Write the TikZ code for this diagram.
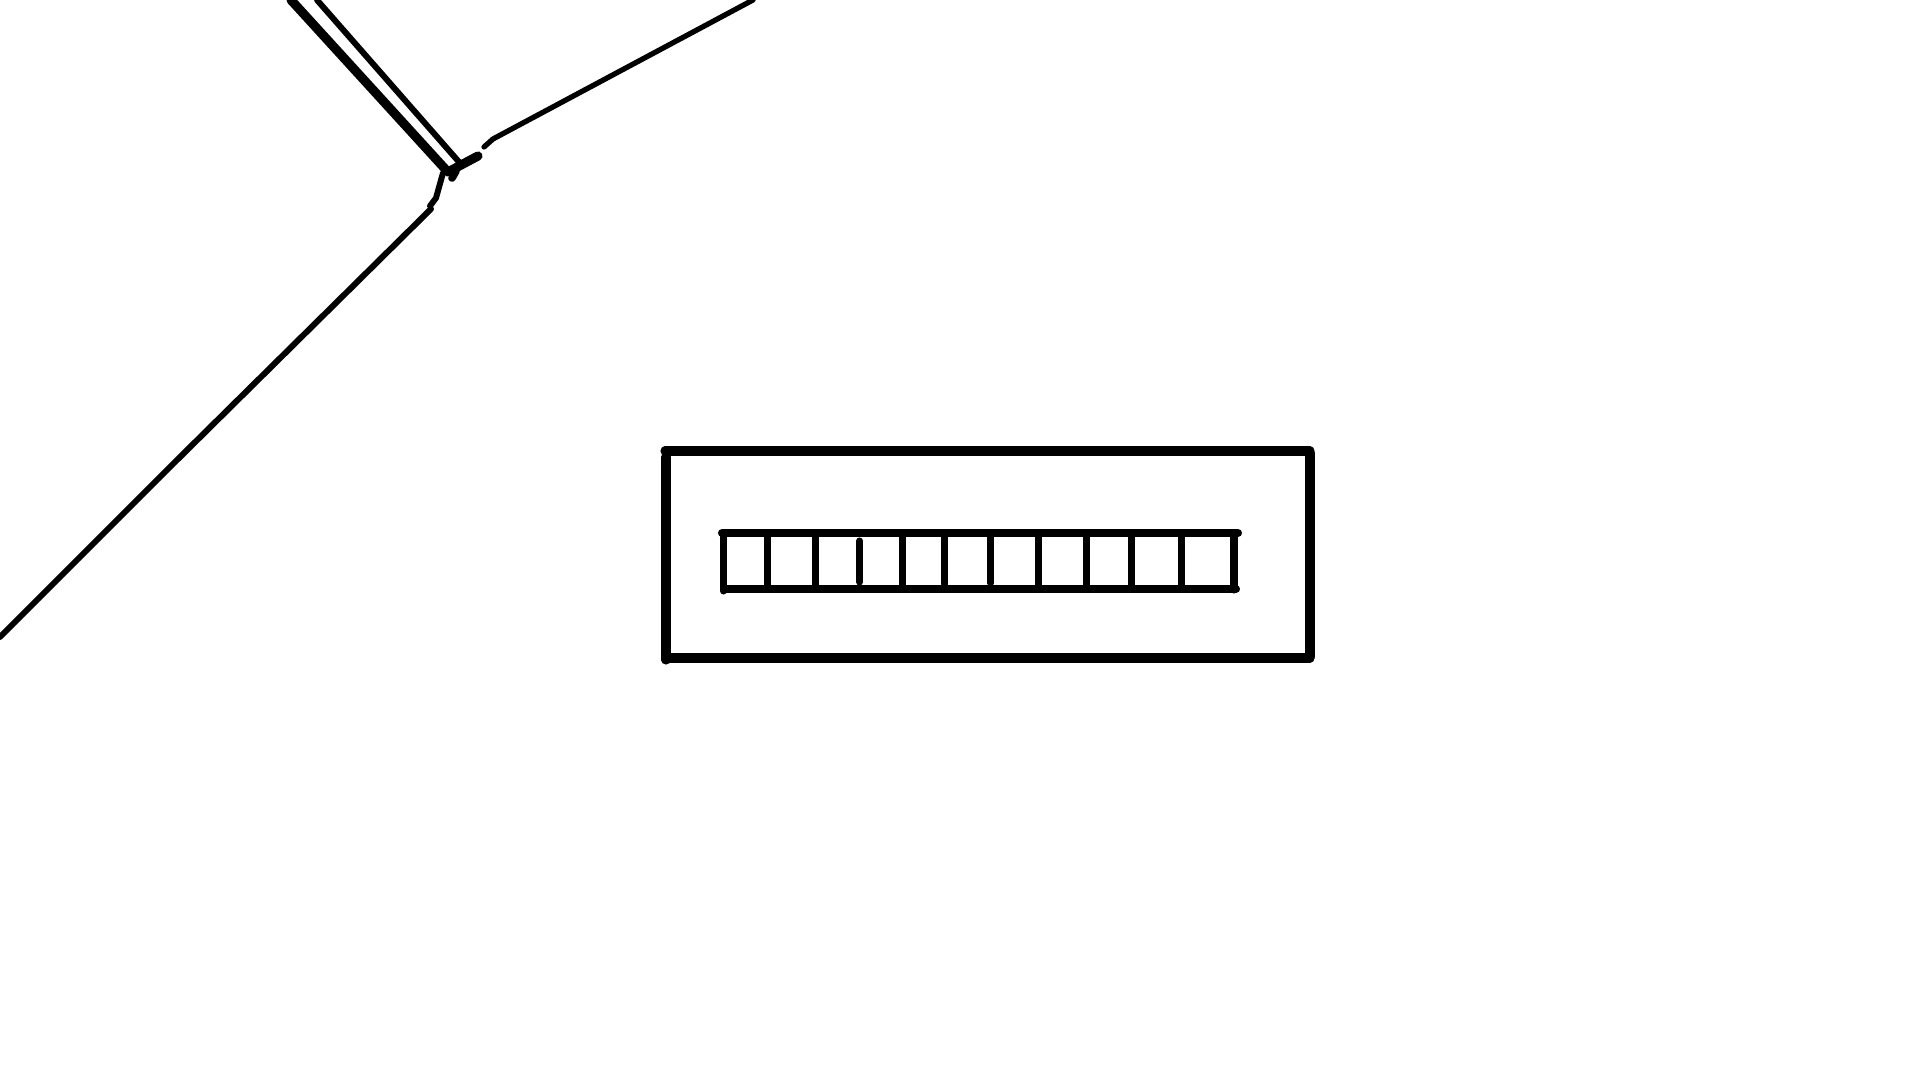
\documentclass[tikz,border=0pt]{standalone}
\usepackage{tikz}
\begin{document}
\begin{tikzpicture}[x=0.01cm,y=-0.01cm,line cap=round,line join=round]
\useasboundingbox (0,0) rectangle (1920,1080);
\draw[line width=2.6pt] (291,0) -- (447,171);
\draw[line width=1.7pt] (317,0) -- (459,162);
\draw[line width=2.6pt] (448,172) -- (478,156);
\draw[line width=2.2pt] (452,178) -- (456,171);
\draw[line width=1.5pt] (484,147) -- (493,139) -- (753,0);
\draw[line width=1.7pt] (443,173) -- (436,198) -- (430,206);
\draw[line width=1.7pt] (431,209) -- (175,462) -- (0,637);
\draw[line width=2.6pt] (665,451) -- (1310,451);
\draw[line width=2.6pt] (666,457) -- (666,660);
\draw[line width=2.6pt] (670,658) -- (1310,658);
\draw[line width=2.6pt] (1310,453) -- (1310,657);
\draw[line width=2.3pt] (722,533) -- (1238,533);
\draw[line width=2.3pt] (724,589) -- (1236,589);
\draw[line width=2.0pt] (723.5,533) -- (723.5,591);
\draw[line width=2.0pt] (767.8,535) -- (767.8,588);
\draw[line width=2.0pt] (815.5,535) -- (815.5,588);
\draw[line width=2.0pt] (859.6,541) -- (859.6,582);
\draw[line width=2.0pt] (902.4,535) -- (902.4,588);
\draw[line width=2.0pt] (944.1,535) -- (944.1,584);
\draw[line width=2.0pt] (990.6,535) -- (990.6,583);
\draw[line width=2.0pt] (1038.4,535) -- (1038.4,588);
\draw[line width=2.0pt] (1086.1,535) -- (1086.1,586);
\draw[line width=2.0pt] (1131.4,535) -- (1131.4,588);
\draw[line width=2.0pt] (1181.6,537) -- (1181.6,588);
\draw[line width=2.0pt] (1234,535) -- (1234,590);
\end{tikzpicture}
\end{document}
